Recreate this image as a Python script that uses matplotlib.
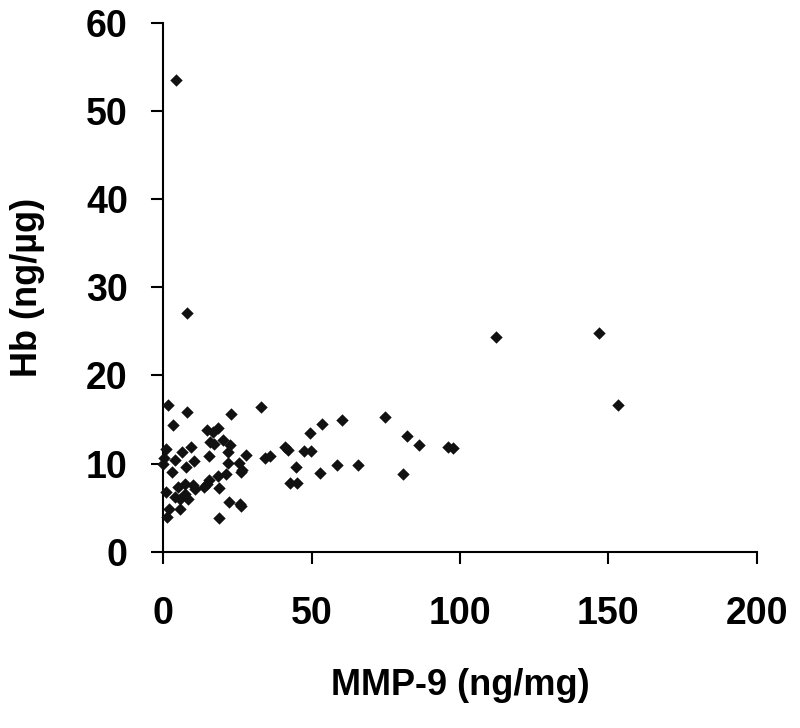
import matplotlib
matplotlib.use("Agg")
import matplotlib.pyplot as plt

# MMP-9 (ng/mg) vs Hb (ng/ug)
mmp9 = [4.2, 8.0, 112.1, 146.7, 153.3, 1.6, 8.1, 22.8, 32.9, 3.2,
        53.6, 60.4, 74.8, 49.5, 82.0, 86.1, 96.0, 97.7, 14.8, 16.7,
        18.3, 15.7, 17.1, 20.1, 22.5, 21.7, 0.9, 0.4, 0.1, 6.4,
        9.3, 4.1, 10.4, 7.6, 3.1, 15.5, 21.9, 25.5, 27.9, 26.7,
        26.3, 34.3, 36.1, 41.2, 42.1, 47.5, 49.7, 44.8, 58.4, 65.7,
        52.9, 80.8, 42.7, 45.2, 0.9, 4.9, 7.5, 10.0, 10.8, 4.1,
        5.7, 7.3, 8.5, 13.7, 14.8, 15.3, 18.5, 21.2, 18.7, 22.3,
        26.0, 26.1, 2.0, 5.6, 1.3, 18.7]
hb = [53.5, 27.1, 24.3, 24.8, 16.6, 16.6, 15.9, 15.6, 16.4, 14.4,
      14.5, 14.9, 15.3, 13.5, 13.1, 12.1, 11.9, 11.8, 13.8, 13.6,
      14.0, 12.4, 12.2, 12.7, 12.1, 11.3, 11.7, 10.6, 9.9, 11.3,
      11.9, 10.4, 10.3, 9.6, 9.1, 10.9, 10.1, 10.1, 11.0, 9.3,
      9.0, 10.6, 10.9, 11.9, 11.5, 11.4, 11.4, 9.6, 9.8, 9.8,
      8.9, 8.8, 7.8, 7.8, 6.8, 7.4, 7.7, 7.6, 7.1, 6.2,
      6.0, 6.6, 6.0, 7.4, 7.7, 8.1, 8.6, 8.8, 7.2, 5.7,
      5.4, 5.2, 4.8, 4.8, 4.0, 3.8]

xticks = [0, 50, 100, 150, 200]
yticks = [0, 10, 20, 30, 40, 50, 60]

plt.rcParams['font.family'] = ['Liberation Sans', 'DejaVu Sans']
plt.rcParams['font.weight'] = 'bold'

fig = plt.figure(figsize=(8, 7.28), dpi=100)
ax = fig.add_axes([0.204, 0.242, 0.742, 0.727])

ax.scatter(mmp9, hb, marker='D', s=40, color='#111111', linewidths=0,
           zorder=3, clip_on=False)

ax.set_xlim(0, 200)
ax.set_ylim(0, 60)
ax.set_xticks(xticks)
ax.set_yticks(yticks)
ax.tick_params(axis='both', direction='out', length=8.5, width=1.5,
               labelsize=27)
ax.tick_params(axis='x', pad=23)
ax.tick_params(axis='y', pad=17)
for lab in ax.get_xticklabels() + ax.get_yticklabels():
    lab.set_fontweight('bold')

ax.spines['top'].set_visible(False)
ax.spines['right'].set_visible(False)
ax.spines['left'].set_linewidth(1.5)
ax.spines['bottom'].set_linewidth(1.5)

ax.set_xlabel('MMP-9 (ng/mg)', fontsize=26, fontweight='bold')
ax.set_ylabel('Hb (ng/µg)', fontsize=26, fontweight='bold')
ax.xaxis.set_label_coords(0.5, -0.22)
ax.yaxis.set_label_coords(-0.199, 0.5)

fig.savefig('out.png', dpi=100)
